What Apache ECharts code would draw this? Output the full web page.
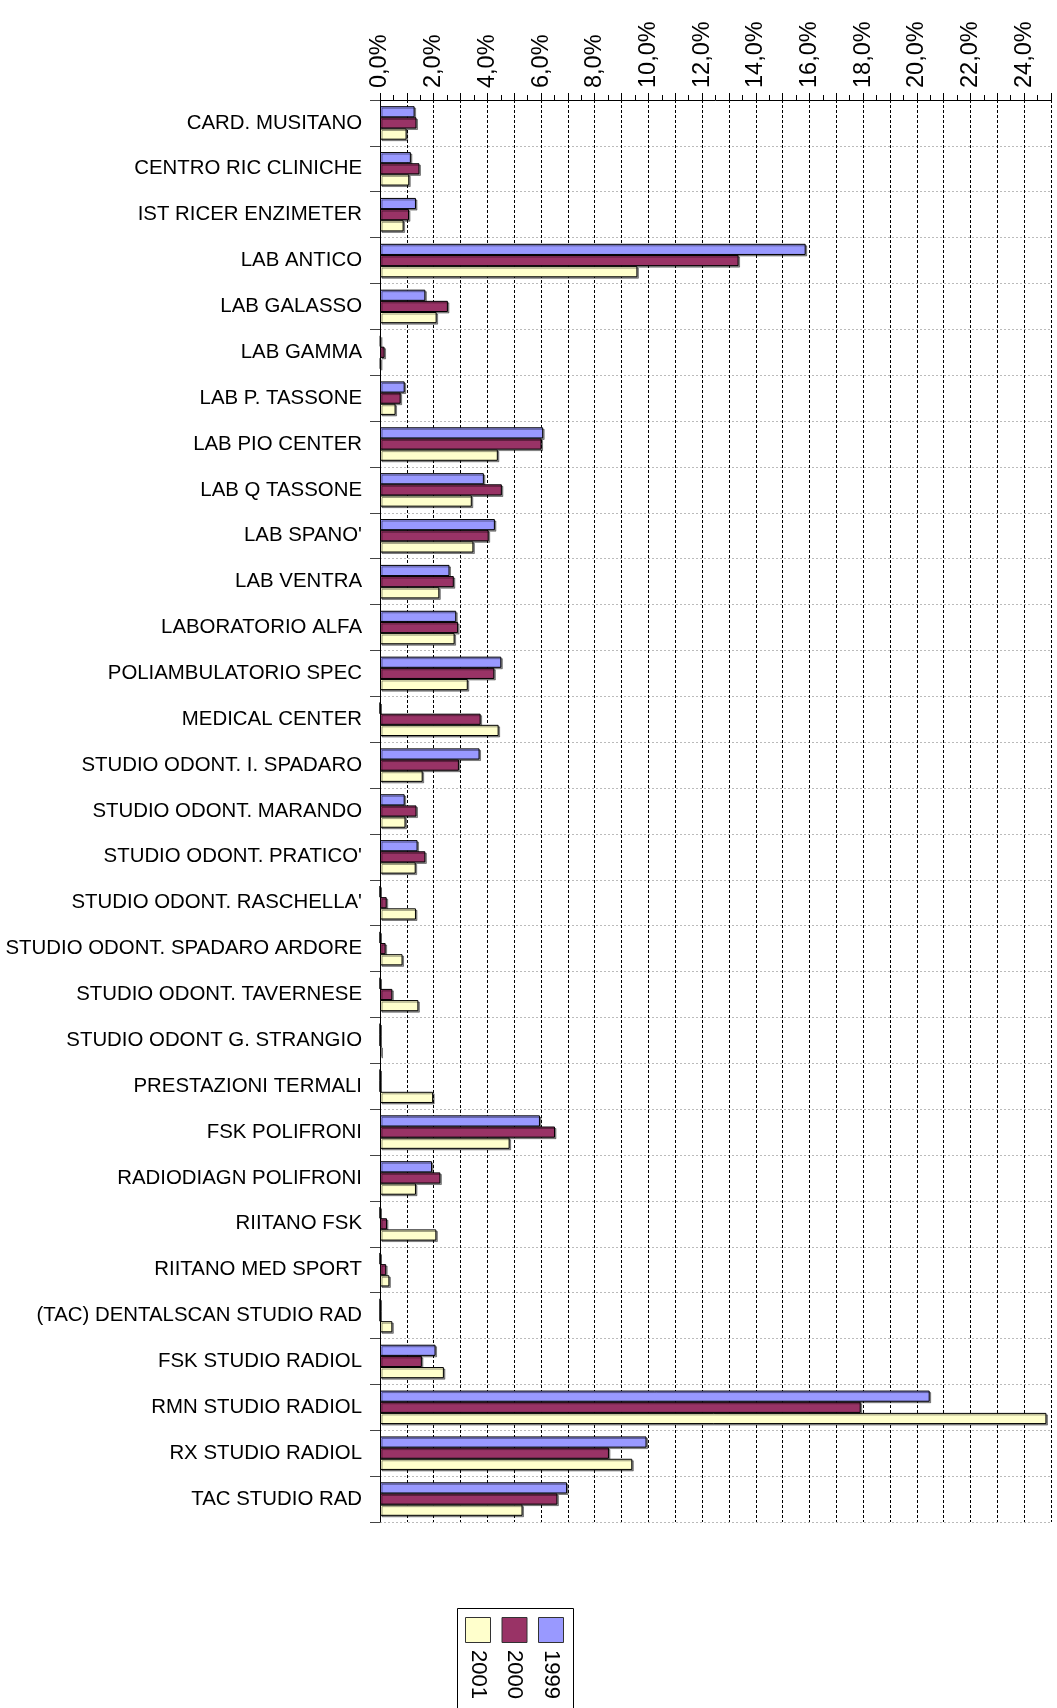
<!DOCTYPE html>
<html><head><meta charset="utf-8">
<script src="https://cdn.jsdelivr.net/npm/echarts/dist/echarts.min.js"></script>
<style>html,body{margin:0;padding:0;background:#fff}#c{width:1057px;height:1708px}</style>
</head><body><div id="c"></div>
<script>
const categories = ["CARD. MUSITANO","CENTRO RIC CLINICHE","IST RICER ENZIMETER","LAB ANTICO","LAB GALASSO","LAB GAMMA","LAB P. TASSONE","LAB PIO CENTER","LAB Q TASSONE","LAB SPANO'","LAB VENTRA","LABORATORIO ALFA","POLIAMBULATORIO SPEC","MEDICAL CENTER","STUDIO ODONT. I. SPADARO","STUDIO ODONT. MARANDO","STUDIO ODONT. PRATICO'","STUDIO ODONT. RASCHELLA'","STUDIO ODONT. SPADARO ARDORE","STUDIO ODONT. TAVERNESE","STUDIO ODONT G. STRANGIO","PRESTAZIONI TERMALI","FSK POLIFRONI","RADIODIAGN POLIFRONI","RIITANO FSK","RIITANO MED SPORT","(TAC) DENTALSCAN STUDIO RAD","FSK STUDIO RADIOL","RMN STUDIO RADIOL","RX STUDIO RADIOL","TAC STUDIO RAD"];
const seriesNames = ["1999","2000","2001"];
const values1999 = [1.29,1.15,1.34,15.86,1.69,0.02,0.92,6.08,3.87,4.28,2.59,2.84,4.52,0,3.71,0.92,1.40,0,0,0,0,0,5.96,1.94,0,0,0,2.07,20.48,9.93,6.97];
const values2000 = [1.36,1.47,1.08,13.36,2.53,0.17,0.77,6.02,4.54,4.05,2.75,2.91,4.26,3.75,2.94,1.36,1.69,0.25,0.21,0.46,0,0,6.52,2.25,0.26,0.23,0,1.56,17.91,8.53,6.61];
const values2001 = [0.99,1.09,0.88,9.59,2.11,0.02,0.58,4.39,3.42,3.48,2.21,2.78,3.27,4.42,1.59,0.95,1.33,1.34,0.84,1.43,0.05,1.98,4.83,1.34,2.10,0.35,0.46,2.38,24.83,9.40,5.31];
const seriesColors = ["#9999FF","#993366","#FFFFCC"];
const axisMin = 0, axisMax = 25, axisStep = 1;

const FONT = "'Liberation Sans', Arial, sans-serif";
const chart = echarts.init(document.getElementById('c'), null, {renderer:'canvas'});
const allValues = [values1999, values2000, values2001];

const series = seriesNames.map((n,i)=>({
  name:n, type:'bar', data: allValues[i],
  barGap:'0%', barCategoryGap:'27%',
  itemStyle:{color:seriesColors[i], borderColor:'#000', borderWidth:1,
    shadowColor:'rgba(0,0,0,0.4)', shadowOffsetX:1.5, shadowOffsetY:1.5, shadowBlur:0},
  emphasis:{disabled:true}
}));

// legend drawn as rotated box (order: 2001, 2000, 1999 left to right)
const legendOrder = [2,1,0];
const graphics = [{
  type:'rect', shape:{x:457.5, y:1608.5, width:116, height:120},
  style:{fill:'#fff', stroke:'#000', lineWidth:1}, z:10
}];
legendOrder.forEach((si,k)=>{
  const x0 = 465 + k*36.5;
  graphics.push({type:'rect', shape:{x:x0+0.5, y:1617.5, width:25, height:25},
    style:{fill:seriesColors[si], stroke:'#333', lineWidth:1}, z:11});
  graphics.push({type:'text', x:x0+13, y:1650, rotation:-Math.PI/2, z:11,
    style:{text:seriesNames[si], x:0, y:0, font:'22px '+FONT, fill:'#000',
      align:'left', verticalAlign:'middle', textAlign:'left', textVerticalAlign:'middle'}});
});

chart.setOption({
  animation:false,
  backgroundColor:'#fff',
  grid:{left:380, top:100, right:6, bottom:186, containLabel:false, outerBoundsMode:'none'},
  xAxis:{type:'value', position:'top', min:axisMin, max:axisMax, interval:axisStep,
    axisLine:{show:true, lineStyle:{color:'#000', width:1}},
    axisTick:{show:true, length:7, lineStyle:{color:'#000'}},
    minorTick:{show:true, splitNumber:2, length:5, lineStyle:{color:'#000'}},
    splitLine:{show:true, lineStyle:{color:'#000', type:[3,2], width:1}},
    minorSplitLine:{show:false},
    axisLabel:{rotate:-90, margin:12, fontSize:23.5, fontFamily:FONT, color:'#000',
      formatter:v=> (Math.round(v)%2===0 ? v.toFixed(1).replace('.',',')+'%' : '')}
  },
  yAxis:{type:'category', data:categories, inverse:true,
    axisLine:{show:true, lineStyle:{color:'#000', width:1}},
    axisTick:{show:true, length:10, lineStyle:{color:'#444'}},
    splitLine:{show:true, lineStyle:{color:'#bbb', type:[2,2], width:1}},
    axisLabel:{fontSize:20.4, fontFamily:FONT, color:'#000', margin:18}
  },
  series: series,
  graphic: graphics
});
</script></body></html>
